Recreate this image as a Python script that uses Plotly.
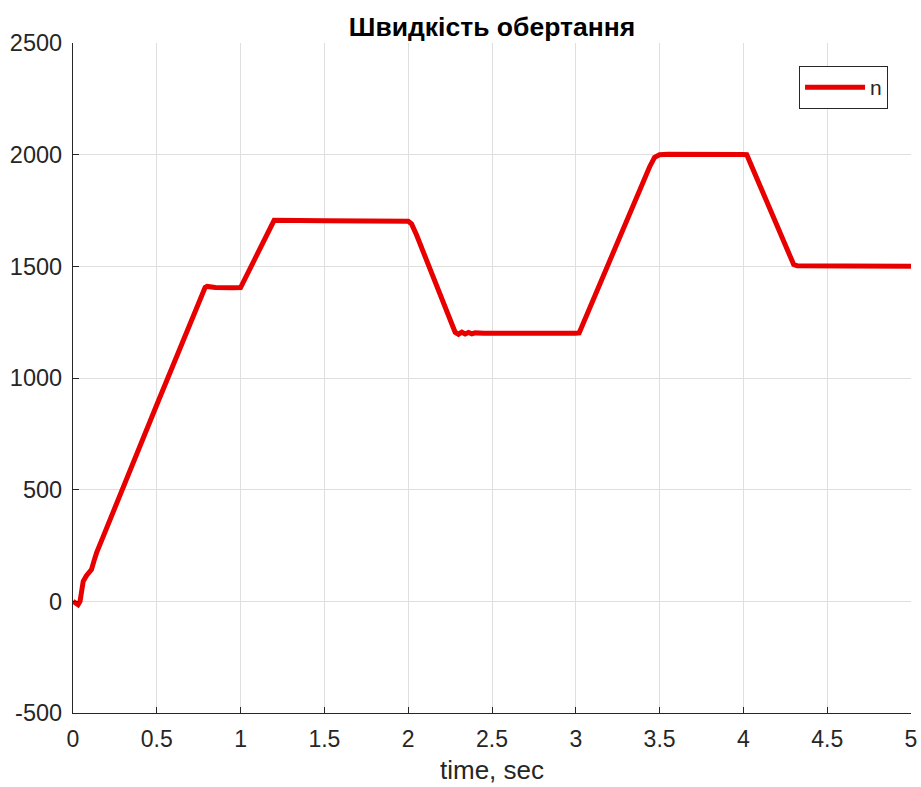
import plotly.graph_objects as go

# Speed profile
time_s = [0.0, 0.012, 0.03, 0.042, 0.05, 0.061, 0.08, 0.11, 0.125, 0.141, 0.18, 0.22,
          0.50, 0.788, 0.80, 0.85, 0.90, 0.95, 1.00,
          1.19, 1.20, 1.50, 1.80, 2.00, 2.02, 2.05, 2.28,
          2.30, 2.32, 2.34, 2.36, 2.38, 2.40, 2.45, 3.00, 3.02,
          3.44, 3.47, 3.50, 3.55, 4.00, 4.02, 4.30, 4.32, 4.60, 5.00]
speed = [0.0, -5, -15, 0, 50, 90, 115, 142, 180, 218, 290, 365,
         880, 1405, 1410, 1405, 1407, 1404, 1405,
         1700, 1706, 1704, 1703, 1702, 1690, 1640, 1205,
         1196, 1205, 1197, 1204, 1198, 1202, 1200, 1200, 1202,
         1945, 1988, 2000, 2002, 2001, 2000, 1508, 1503, 1502, 1500]

x_ticks = [0, 0.5, 1, 1.5, 2, 2.5, 3, 3.5, 4, 4.5, 5]
x_tick_labels = ["0", "0.5", "1", "1.5", "2", "2.5", "3", "3.5", "4", "4.5", "5"]
y_ticks = [-500, 0, 500, 1000, 1500, 2000, 2500]
y_tick_labels = ["-500", "0", "500", "1000", "1500", "2000", "2500"]

font_family = "Liberation Sans, Arial, Helvetica, sans-serif"
dark = "#262626"
grid = "#dfdfdf"

fig = go.Figure()
fig.add_trace(go.Scatter(x=time_s, y=speed, mode="lines", name="n",
                         line=dict(color="#e80000", width=5)))

fig.update_layout(
    width=921, height=787,
    margin=dict(l=73, r=10, t=43, b=74),
    paper_bgcolor="white", plot_bgcolor="white",
    font=dict(family=font_family, size=23, color=dark),
    title=dict(text="<b>Швидкість обертання</b>", x=0.5342, xanchor="center",
               y=0.966, yanchor="middle",
               font=dict(family=font_family, size=26.5, color="#000000")),
    showlegend=True,
    legend=dict(x=0.9726, xanchor="right", y=0.9657, yanchor="top",
                bgcolor="white", bordercolor=dark, borderwidth=1,
                itemwidth=60,
                font=dict(size=21, color=dark)),
    xaxis=dict(range=[0, 5], tickvals=x_ticks, ticktext=x_tick_labels,
               automargin=False,
               showgrid=True, gridcolor=grid, gridwidth=1,
               showline=True, linecolor=dark, linewidth=1.3,
               ticks="inside", ticklen=6, tickcolor=dark,
               ticklabelstandoff=5,
               tickfont=dict(size=23),
               zeroline=False, mirror=False,
               title=dict(text="time, sec", font=dict(size=26, color=dark), standoff=10)),
    yaxis=dict(range=[-500, 2500], tickvals=y_ticks, ticktext=y_tick_labels,
               automargin=False,
               showgrid=True, gridcolor=grid, gridwidth=1,
               showline=True, linecolor=dark, linewidth=1.3,
               ticks="inside", ticklen=6, tickcolor=dark,
               ticklabelstandoff=5,
               tickfont=dict(size=23.5),
               zeroline=False, mirror=False),
)

fig.write_html("out.html")
